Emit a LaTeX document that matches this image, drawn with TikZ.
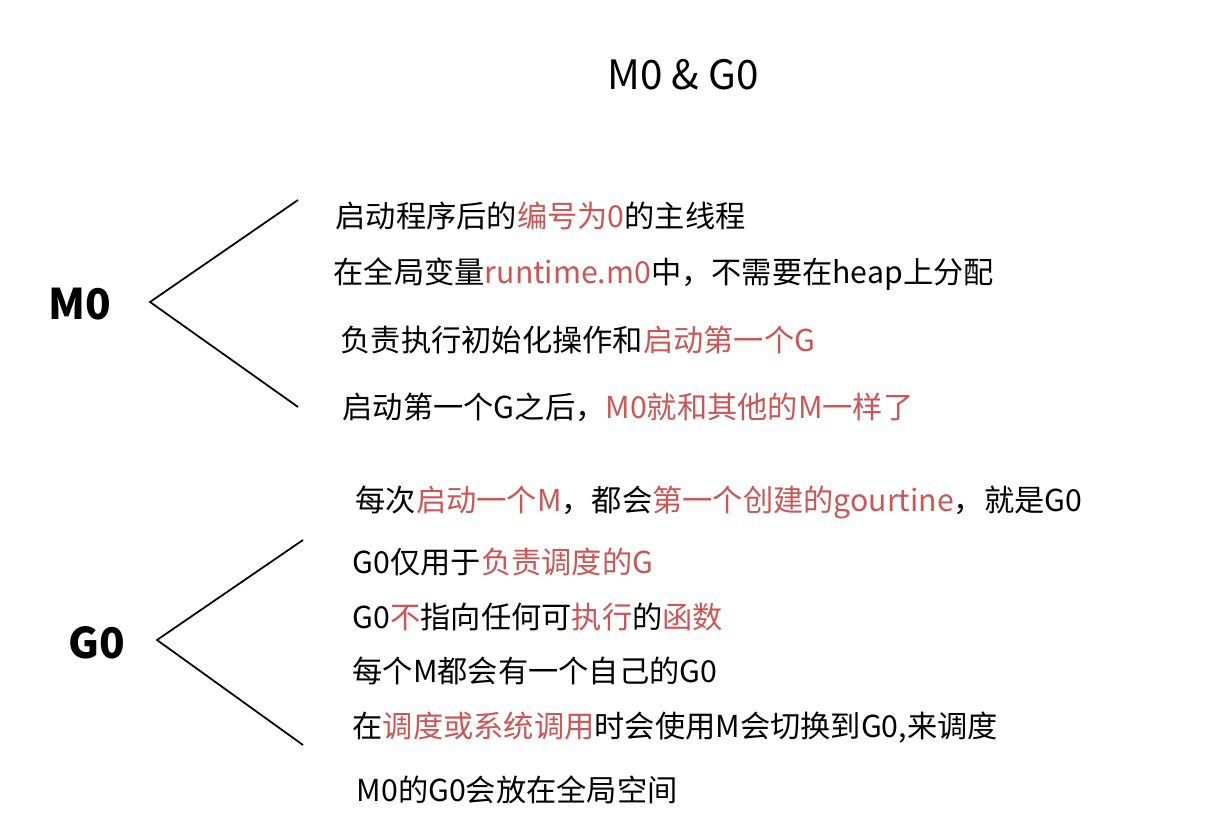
\documentclass[tikz,border=0pt]{standalone}
\usepackage{fontspec}
\setmainfont{Noto Sans CJK SC}
\setsansfont{Noto Sans CJK SC}
\definecolor{hlred}{RGB}{205,85,85}
\newcommand{\hl}[1]{\textcolor{hlred}{#1}}
\tikzset{
  item/.style={anchor=west,inner sep=0pt,font=\fontsize{8.6}{10}\selectfont},
  head/.style={font=\fontsize{12}{14}\selectfont\bfseries},
  branch/.style={draw=black,line width=0.5pt}
}
\begin{document}
\begin{tikzpicture}[x=0.01cm,y=-0.01cm]
  \useasboundingbox (0,0) rectangle (1218,834);
  \node[font=\fontsize{11.5}{14}\selectfont] (title) at (683,75) {M0 \& G0};
  % M0
  \node[head] (m0) at (80,304) {M0};
  \coordinate (m0a) at (150,302);
  \coordinate (m0t) at (298,200);
  \coordinate (m0b) at (298,407);
  \path[branch] (m0t) -- (m0a) -- (m0b);
  \node[item] (m1) at (335,216) {启动程序后的\hl{编号为0}的主线程};
  \node[item] (m2) at (333,274) {在全局变量\hl{runtime.m0}中，不需要在heap上分配};
  \node[item] (m3) at (340,340) {负责执行初始化操作和\hl{启动第一个G}};
  \node[item] (m4) at (342,407) {启动第一个G之后，\hl{M0就和其他的M一样了}};
  % G0
  \node[head] (g0) at (97,643) {G0};
  \coordinate (g0a) at (157,640);
  \coordinate (g0t) at (303,540);
  \coordinate (g0b) at (303,745);
  \path[branch] (g0t) -- (g0a) -- (g0b);
  \node[item] (g1) at (355,502) {每次\hl{启动一个M}，都会\hl{第一个创建的gourtine}，就是G0};
  \node[item] (g2) at (352,562) {G0仅用于\hl{负责调度的G}};
  \node[item] (g3) at (352,617) {G0\hl{不}指向任何可\hl{执行}的\hl{函数}};
  \node[item] (g4) at (352,671) {每个M都会有一个自己的G0};
  \node[item] (g5) at (352,728) {在\hl{调度或系统调用}时会使用M会切换到G0,来调度};
  \node[item] (g6) at (356,790) {M0的G0会放在全局空间};
\end{tikzpicture}
\end{document}
